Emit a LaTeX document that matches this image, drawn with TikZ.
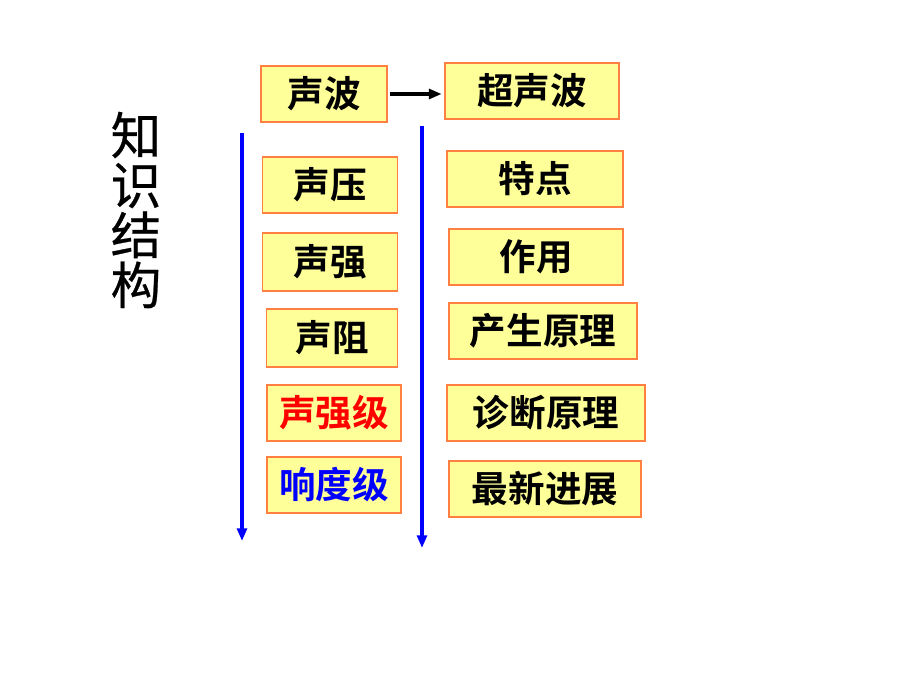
\documentclass[tikz,border=0pt]{standalone}
\usepackage{fontspec}
\newfontfamily\cjk[FakeBold=0.5]{Noto Sans CJK SC}
\newfontfamily\cjkbold{Noto Sans CJK SC Bold}
\usetikzlibrary{arrows.meta}
\definecolor{boxfill}{RGB}{255,255,153}
\definecolor{boxline}{RGB}{255,128,64}
\definecolor{flowblue}{RGB}{0,0,255}

\begin{document}
\begin{tikzpicture}
  [x=0.025cm,y=-0.025cm,
   itemN/.style={rectangle,draw=boxline,fill=boxfill,line width=0.8pt,
                 minimum height=1.4cm,inner sep=0pt,
                 font=\cjkbold\fontsize{26}{28}\selectfont},
   flow/.style={flowblue,line width=2.2pt,-{Triangle[length=9pt,width=7pt]}}]

  \useasboundingbox (0,0) rectangle (920,690);

  % left column
  \node[itemN,minimum width=3.15cm] (wave)  at (324,94)  {声波};
  \node[itemN,minimum width=3.38cm] (press) at (330,185) {声压};
  \node[itemN,minimum width=3.38cm,minimum height=1.45cm] (inten) at (330,262) {声强};
  \node[itemN,minimum width=3.28cm,minimum height=1.45cm] (imped) at (332,338) {声阻};
  \node[itemN,minimum width=3.35cm,text=red]       (ilevel) at (334,413) {声强级};
  \node[itemN,minimum width=3.35cm,text=flowblue]  (lond)   at (334,485) {响度级};

  % right column
  \node[itemN,minimum width=4.35cm] (ultra) at (532,91)  {超声波};
  \node[itemN,minimum width=4.4cm]  (feat)  at (535,179) {特点};
  \node[itemN,minimum width=4.35cm] (use)   at (536,257) {作用};
  \node[itemN,minimum width=4.7cm]  (gen)   at (543,331) {产生原理};
  \node[itemN,minimum width=4.95cm] (diag)  at (546,413) {诊断原理};
  \node[itemN,minimum width=4.8cm]  (news)  at (545,489) {最新进展};

  % title
  \node[font=\cjk\fontsize{36}{35.5}\selectfont,align=center] (title) at (136,210)
    {知\\识\\结\\构};

  \coordinate (ltop) at (242,133);
  \coordinate (lbot) at (242,541);
  \coordinate (rtop) at (422,126);
  \coordinate (rbot) at (422,548);

  \draw [line width=2.2pt,-{Triangle[length=9pt,width=7pt]},shorten <=2pt,shorten >=2pt]
    (wave.east) -- (wave.east -| ultra.west);
  \draw [flow] (ltop) -- (lbot);
  \draw [flow] (rtop) -- (rbot);

\end{tikzpicture}
\end{document}
